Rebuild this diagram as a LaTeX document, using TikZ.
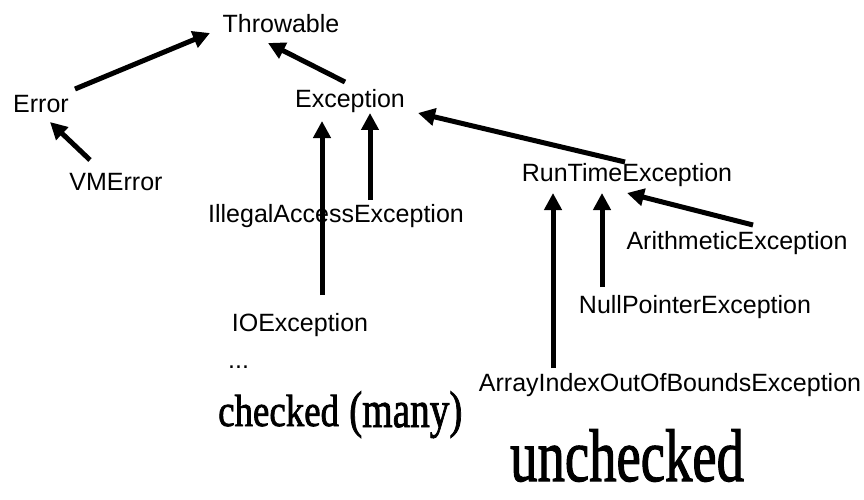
\documentclass[tikz,border=0pt]{standalone}
\usepackage{fontspec}
\setmainfont{Liberation Sans}
\newfontfamily\wafont[FakeBold=1.8]{Liberation Serif}
\usetikzlibrary{arrows.meta}
\begin{document}
\begin{tikzpicture}[x=1pt,y=-1pt,
  lbl/.style={font=\fontsize{25}{28}\selectfont, inner sep=0pt, anchor=base},
  arr/.style={line width=5pt, -{Triangle[length=17pt,width=17pt]}},
  wa/.style={inner sep=0pt, anchor=base west}]
\path[use as bounding box] (0,0) rectangle (864,500);

% class labels
\node[lbl] (thr) at (281,33) {Throwable};
\node[lbl] (err) at (41,113) {Error};
\node[lbl] (vme) at (116,190) {VMError};
\node[lbl] (exc) at (350,107) {Exception};
\node[lbl] (iae) at (336,222) {IllegalAccessException};
\node[lbl] (ioe) at (300,331) {IOException};
\node[lbl, anchor=base west] (dots) at (228,368) {...};
\node[lbl] (rte) at (627,181) {RunTimeException};
\node[lbl] (ari) at (737,249) {ArithmeticException};
\node[lbl] (npe) at (695,313) {NullPointerException};
\node[lbl] (aio) at (670,391) {ArrayIndexOutOfBoundsException};

% word art
\node[wa] (chk) at (218,426) {\scalebox{0.82}[1]{\wafont\fontsize{45}{50}\selectfont checked}};
\node[wa] (many) at (349,427) {\scalebox{0.8}[1.05]{\wafont\fontsize{49}{54}\selectfont (many)}};
\node[wa] (unc) at (510,481) {\scalebox{0.77}[1.05]{\wafont\fontsize{71}{76}\selectfont unchecked}};

% inheritance arrows
\draw[arr] ([shift={(34,-24)}]err.base) -- ([shift={(-71,0)}]thr.base);
\draw[arr] ([shift={(-5,-25)}]exc.base) -- ([shift={(-13,10)}]thr.base);
\draw[arr] ([shift={(-26,-30)}]vme.base) -- ([shift={(9,9)}]err.base);
\draw[arr] ([shift={(22,-36)}]ioe.base) -- ([shift={(-28,14)}]exc.base);
\draw[arr] ([shift={(34,-22)}]iae.base) -- ([shift={(20,6)}]exc.base);
\draw[arr] ([shift={(-2,-19)}]rte.base) -- ([shift={(68,6)}]exc.base);
\draw[arr] ([shift={(16,-24)}]ari.base) -- ([shift={(0,12)}]rte.base);
\draw[arr] ([shift={(-117,-23)}]aio.base) -- ([shift={(-74,12)}]rte.base);
\draw[arr] ([shift={(-93,-26)}]npe.base) -- ([shift={(-25,12)}]rte.base);
\end{tikzpicture}
\end{document}
